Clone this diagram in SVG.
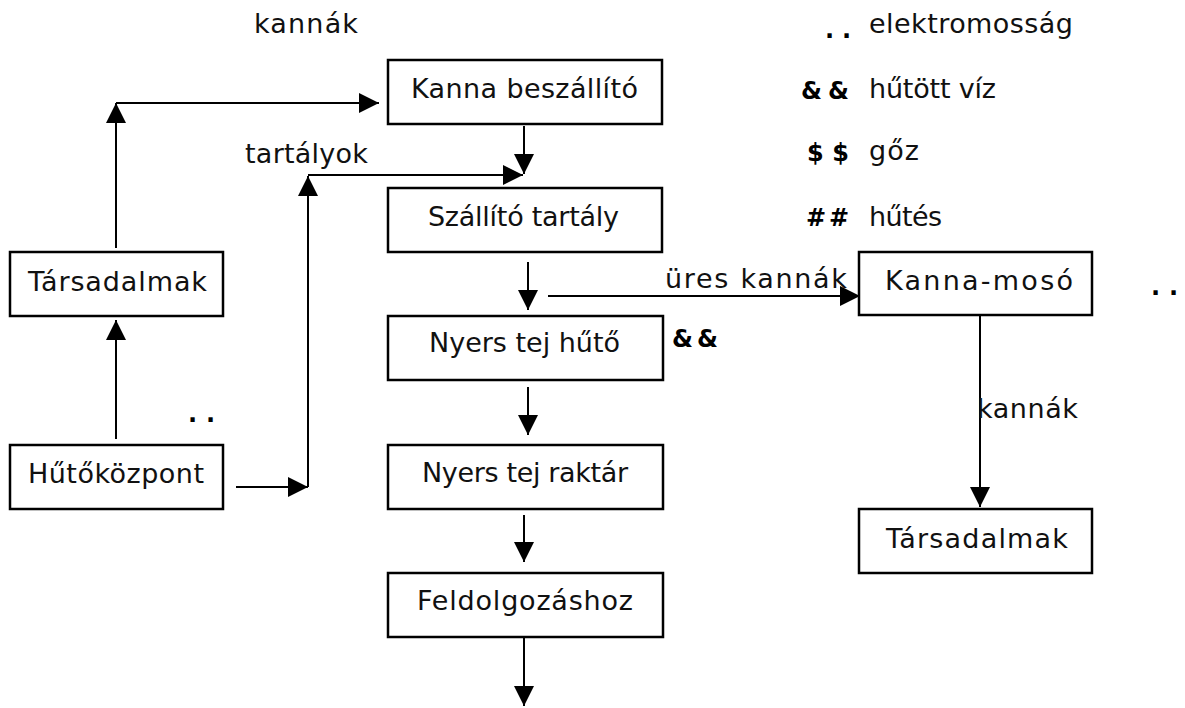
<svg xmlns="http://www.w3.org/2000/svg" width="1185" height="708" viewBox="0 0 1185 708">
  <style>
    .box { fill: #ffffff; stroke: #000000; stroke-width: 2.5; }
    .lbl { font-family: "DejaVu Sans", "Liberation Sans", sans-serif; font-size: 27px; fill: #111111; }
    .sym { font-family: "DejaVu Sans", "Liberation Sans", sans-serif; font-size: 24px; font-weight: bold; fill: #000000; }
    .wire { fill: none; stroke: #000000; stroke-width: 2; }
  </style>
  <defs>
    <marker id="head" markerUnits="userSpaceOnUse" markerWidth="20" markerHeight="20" refX="20" refY="10" orient="auto">
      <path d="M0,0 L20,10 L0,20 Z" fill="#000000"/>
    </marker>
  </defs>
  <rect width="1185" height="708" fill="#ffffff"/>

  <!-- Connectors -->
  <g id="connectors" class="wire" marker-end="url(#head)">
    <path d="M116,248 V103"/>
    <path d="M116,103 H379"/>
    <path d="M116,439 V320"/>
    <path d="M236,487 H308"/>
    <path d="M308,487 V176"/>
    <path d="M308,175 H523"/>
    <path d="M524,126 V174"/>
    <path d="M528,262 V310"/>
    <path d="M548,296 H860"/>
    <path d="M528,387 V435"/>
    <path d="M524,515 V562"/>
    <path d="M524,637 V706"/>
    <path d="M980,316 V507"/>
  </g>

  <!-- Connector labels -->
  <g id="edge-labels">
    <text class="lbl" x="254" y="33" textLength="104">kannák</text>
    <text class="lbl" x="245" y="163" textLength="123">tartályok</text>
    <text class="lbl" x="665" y="288" textLength="182">üres kannák</text>
    <text class="lbl" x="977" y="418" textLength="101">kannák</text>
  </g>

  <!-- Nodes -->
  <g id="kanna-beszallito">
    <rect class="box" x="388" y="60" width="274" height="64"/>
    <text class="lbl" x="411" y="98" textLength="227">Kanna beszállító</text>
  </g>
  <g id="szallito-tartaly">
    <rect class="box" x="388" y="188" width="274" height="64"/>
    <text class="lbl" x="428" y="226" textLength="191">Szállító tartály</text>
  </g>
  <g id="nyers-tej-huto">
    <rect class="box" x="388" y="316" width="275" height="64"/>
    <text class="lbl" x="429" y="352" textLength="191">Nyers tej hűtő</text>
  </g>
  <g id="nyers-tej-raktar">
    <rect class="box" x="388" y="445" width="275" height="64"/>
    <text class="lbl" x="422" y="482" textLength="206">Nyers tej raktár</text>
  </g>
  <g id="feldolgozashoz">
    <rect class="box" x="388" y="573" width="275" height="64"/>
    <text class="lbl" x="417" y="610" textLength="216">Feldolgozáshoz</text>
  </g>
  <g id="tarsadalmak-bal">
    <rect class="box" x="10" y="252" width="213" height="64"/>
    <text class="lbl" x="28" y="291" textLength="179">Társadalmak</text>
  </g>
  <g id="hutokozpont">
    <rect class="box" x="10" y="445" width="213" height="64"/>
    <text class="lbl" x="28" y="483" textLength="176">Hűtőközpont</text>
  </g>
  <g id="kanna-moso">
    <rect class="box" x="859" y="252" width="233" height="63"/>
    <text class="lbl" x="885" y="290" textLength="188">Kanna-mosó</text>
  </g>
  <g id="tarsadalmak-jobb">
    <rect class="box" x="859" y="509" width="233" height="64"/>
    <text class="lbl" x="886" y="548" textLength="182">Társadalmak</text>
  </g>

  <!-- Utility markers next to the plant units -->
  <g id="utility-marks">
    <text class="sym" x="188" y="422" textLength="27">. .</text>
    <text class="sym" x="1151" y="295" textLength="27">. .</text>
    <text class="sym" x="672" y="347" textLength="46">&amp; &amp;</text>
  </g>

  <!-- Legend -->
  <g id="legend">
    <text class="sym" x="825" y="38" textLength="26">. .</text>
    <text class="lbl" x="869" y="33" textLength="204">elektromosság</text>
    <text class="sym" x="801" y="99" textLength="48">&amp; &amp;</text>
    <text class="lbl" x="869" y="98" textLength="127">hűtött víz</text>
    <text class="sym" x="807" y="161" textLength="42">$ $</text>
    <text class="lbl" x="869" y="160" textLength="50">gőz</text>
    <text class="sym" x="806" y="226" textLength="43"># #</text>
    <text class="lbl" x="869" y="226" textLength="73">hűtés</text>
  </g>
</svg>
